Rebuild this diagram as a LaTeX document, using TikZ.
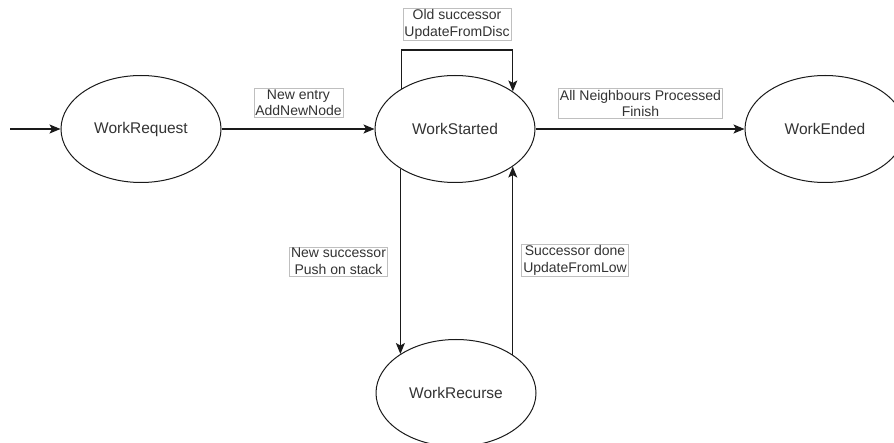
\documentclass[tikz,border=0pt]{standalone}
\usepackage{fontspec}
\setmainfont{Liberation Sans}
\usetikzlibrary{arrows.meta, shapes.geometric}
\definecolor{cText}{HTML}{333333}
\definecolor{cLine}{HTML}{1A1A1A}

\begin{document}
\begin{tikzpicture}[
  x=1pt, y=-1pt,
  >={Stealth[length=11pt, width=9pt, inset=2.5pt]},
  state/.style={ellipse, draw=cLine, line width=1pt, inner sep=0pt,
                minimum width=160pt, minimum height=107pt,
                text=cText, font=\fontsize{15.5}{18}\selectfont},
  edge/.style={->, draw=cLine, line width=1.1pt},
  lbl/.style={draw=black!25, fill=white, line width=0.6pt, align=center,
              text=cText, inner sep=1.5pt,
              font=\fontsize{14}{16.5}\selectfont},
]
\useasboundingbox (0,0) rectangle (894,443);
\clip (0,0) rectangle (894,443);

% ====================== states ====================
\node[state] (wq) at (141,129) {WorkRequest};
\node[state] (ws) at (455,129) {WorkStarted};
\node[state] (we) at (825,129) {WorkEnded};
\node[state] (wr) at (456,393) {WorkRecurse};
\coordinate (start) at (10,129);

% ====================== transitions ===============
\draw[edge] (start) -- (wq.west);
\draw[edge] (wq.east) -- (ws.west);
\draw[edge] (ws.east) -- (we.west);
\draw[edge] (ws.143.5) -- (ws.143.5 |- 0,50) -| (ws.33);
\draw[edge] (ws.216.5) -- (ws.216.5 |- wr.145);
\draw[edge] (wr.34) -- (wr.34 |- ws.327);

% ====================== labels ====================
\node[lbl] (lnew) at (298.5,103) {New entry\\AddNewNode};
\node[lbl] (lold) at (457,24.5) {Old successor\\UpdateFromDisc};
\node[lbl] (lall) at (640.5,103.5) {All Neighbours Processed\\Finish};
\node[lbl] (lpush) at (338.5,261.5) {New successor\\Push on stack};
\node[lbl] (ldone) at (575,260.5) {Successor done\\UpdateFromLow};

\end{tikzpicture}
\end{document}
